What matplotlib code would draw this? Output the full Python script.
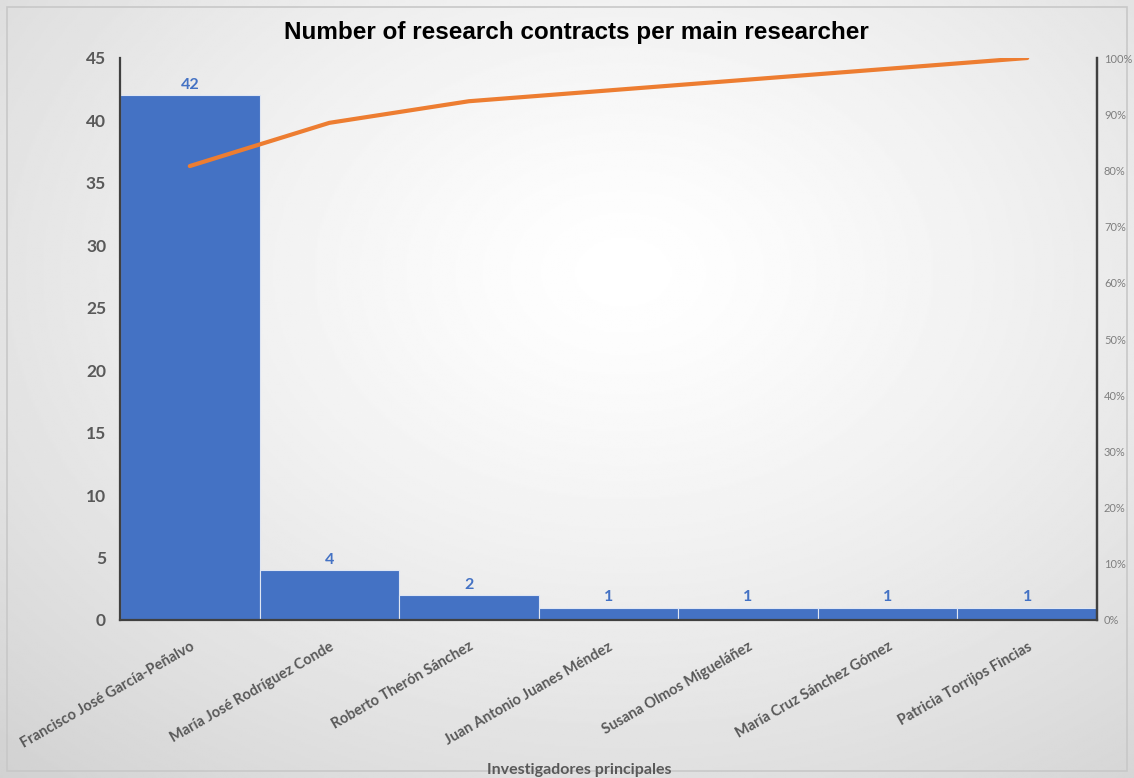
import numpy as np
import matplotlib.pyplot as plt
from matplotlib.patches import Rectangle
from matplotlib.ticker import PercentFormatter

researchers = ["Francisco José García-Peñalvo", "María José Rodríguez Conde",
               "Roberto Therón Sánchez", "Juan Antonio Juanes Méndez",
               "Susana Olmos Migueláñez", "María Cruz Sánchez Gómez",
               "Patricia Torrijos Fincias"]
contracts = [42, 4, 2, 1, 1, 1, 1]

cum_pct = np.cumsum(contracts) / np.sum(contracts) * 100

bar_color = "#4472C4"
line_color = "#ED7D31"
text_gray = "#595959"

fig = plt.figure(figsize=(11.34, 7.78), dpi=100)

# radial gradient background
bg = fig.add_axes([0, 0, 1, 1], zorder=-10)
yy, xx = np.mgrid[0:1:400j, 0:1:600j]
r = np.sqrt(((xx - 0.55) / 0.75) ** 2 + ((yy - 0.35) / 0.8) ** 2)
shade = 1.0 - 0.16 * np.clip(r, 0, 1.2) ** 1.3
bg.imshow(shade, cmap="gray", vmin=0, vmax=1, extent=[0, 1, 0, 1],
          aspect="auto", origin="upper")
bg.add_patch(Rectangle((7 / 1134, 7 / 778), 1 - 14 / 1134, 1 - 14 / 778,
                       fill=False, edgecolor="#c8c8c8", lw=1.2))
bg.set_xlim(0, 1)
bg.set_ylim(0, 1)
bg.axis("off")

ax = fig.add_axes([120 / 1134, 1 - 620 / 778, 977 / 1134, 562 / 778])
ax.patch.set_alpha(0)
x = np.arange(len(contracts))
ax.bar(x, contracts, width=1.0, color=bar_color, edgecolor="#dfe6f3", linewidth=0.8)
for xi, v in zip(x, contracts):
    ax.text(xi, v + 0.25, str(v), ha="center", va="bottom", color=bar_color,
            fontsize=11.5, fontweight="bold", family="Lato")

ax.set_xlim(-0.5, len(contracts) - 0.5)
ax.set_ylim(0, 45)
ax.set_yticks(range(0, 46, 5))
ax.tick_params(axis="y", length=0, pad=10, labelsize=12.5, labelcolor=text_gray)
for lbl in ax.get_yticklabels():
    lbl.set_fontweight("bold")
    lbl.set_family("Lato")
ax.set_xticks(x)
ax.set_xticklabels(researchers, rotation=30, ha="right", rotation_mode="anchor",
                   fontsize=10.5, color=text_gray, family="Lato", fontweight="bold")
ax.tick_params(axis="x", length=0, pad=14)
ax.set_xlabel("Investigadores principales", fontsize=11.5, color=text_gray,
              family="Lato", fontweight="bold")
ax.xaxis.set_label_coords(0.47, -0.255)
ax.spines["top"].set_visible(False)
for s in ["left", "bottom", "right"]:
    ax.spines[s].set_color("#404040")
    ax.spines[s].set_linewidth(1.6)

ax2 = ax.twinx()
ax2.plot(x, cum_pct, color=line_color, lw=3, solid_capstyle="round")
ax2.set_ylim(0, 100)
ax2.set_yticks(range(0, 101, 10))
ax2.yaxis.set_major_formatter(PercentFormatter(decimals=0))
ax2.tick_params(axis="y", length=0, pad=5, labelsize=8, labelcolor="#7f7f7f")
for lbl in ax2.get_yticklabels():
    lbl.set_family("Lato")
for s in ["top", "left", "bottom"]:
    ax2.spines[s].set_visible(False)
ax2.spines["right"].set_color("#404040")
ax2.spines["right"].set_linewidth(1.6)

fig.text(0.508, 0.958, "Number of research contracts per main researcher",
         ha="center", va="center", fontsize=17.5, fontweight="bold",
         family="Liberation Sans")

fig.savefig("out.png", dpi=100)
